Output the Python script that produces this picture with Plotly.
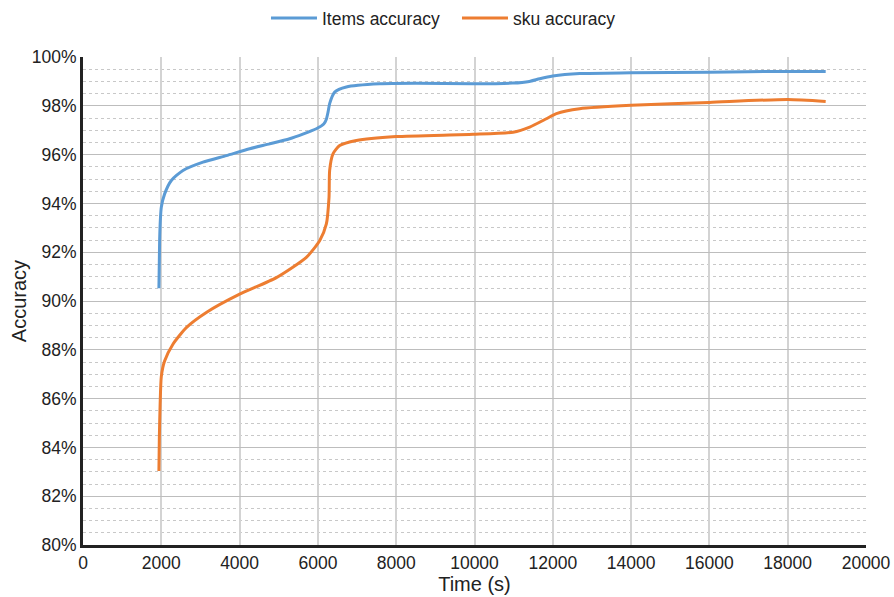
import plotly.graph_objects as go

# Items accuracy (blue)
items_time = [1939, 1957, 1975, 2000, 2085, 2256, 2553, 3064, 3661, 4257, 4768, 5278, 5960,
              6150, 6216, 6260, 6300, 6428, 6727, 7577, 8500, 9954, 10976, 11400, 11666,
              11998, 12688, 14000, 16000, 18000, 18970]
items_acc = [90.52, 92.47, 93.3, 93.84, 94.39, 94.94, 95.35, 95.69, 95.96, 96.24, 96.44,
             96.65, 97.06, 97.25, 97.45, 97.75, 98.09, 98.56, 98.77, 98.9, 98.92, 98.9,
             98.93, 99.0, 99.11, 99.22, 99.32, 99.35, 99.38, 99.41, 99.41]

# sku accuracy (orange)
sku_time = [1939, 1950, 1970, 2000, 2084, 2297, 2639, 3150, 4001, 4939, 5705, 6045,
            6216, 6284, 6300, 6385, 6556, 6983, 8000, 9962, 10985, 11410, 11836, 12092,
            12688, 14000, 16000, 18000, 18970]
sku_acc = [83.03, 84.39, 85.77, 86.9, 87.54, 88.23, 88.91, 89.53, 90.28, 90.96, 91.79,
           92.47, 93.16, 94.25, 95.35, 96.03, 96.37, 96.58, 96.74, 96.83, 96.92,
           97.13, 97.47, 97.68, 97.88, 98.02, 98.14, 98.26, 98.18]

x_ticks = [0, 2000, 4000, 6000, 8000, 10000, 12000, 14000, 16000, 18000, 20000]
y_ticks = [80, 82, 84, 86, 88, 90, 92, 94, 96, 98, 100]

FONT = "Liberation Sans, Arial, sans-serif"

fig = go.Figure()
fig.add_trace(go.Scatter(x=items_time, y=items_acc, mode="lines", name="Items accuracy",
                         line=dict(color="#5B9BD5", width=3, shape="spline", smoothing=0.6)))
fig.add_trace(go.Scatter(x=sku_time, y=sku_acc, mode="lines", name="sku accuracy",
                         line=dict(color="#ED7D31", width=3, shape="spline", smoothing=0.6)))

fig.update_layout(
    width=894, height=597,
    margin=dict(l=83, r=28, t=57, b=52, autoexpand=False),
    paper_bgcolor="white", plot_bgcolor="white",
    font=dict(family=FONT, size=17, color="#222"),
    showlegend=True,
    legend=dict(orientation="h", x=0.2337, xanchor="left", yref="container", y=1.0,
                yanchor="top", font=dict(size=17.5, color="#222"), itemwidth=46,
                entrywidth=130, entrywidthmode="pixels",
                bgcolor="rgba(0,0,0,0)"),
    xaxis=dict(range=[0, 20000], tickvals=x_ticks, ticktext=[str(v) for v in x_ticks],
               showgrid=True, gridcolor="#d3d3d3", gridwidth=2, automargin=False,
               showline=True, linecolor="#222", linewidth=3, ticks="", zeroline=False,
               title=dict(text="Time (s)", font=dict(size=20), standoff=2),
               tickfont=dict(size=17.5)),
    yaxis=dict(range=[80, 100], tickvals=y_ticks, ticktext=[f"{v}%" for v in y_ticks],
               showgrid=True, gridcolor="#bdbdbd", gridwidth=1, automargin=False,
               minor=dict(dtick=0.5, showgrid=True, gridcolor="#c8c8c8", griddash="dot",
                          gridwidth=1),
               showline=True, linecolor="#222", linewidth=3, ticks="", zeroline=False,
               title=dict(text="Accuracy", font=dict(size=20), standoff=0),
               tickfont=dict(size=17.5)),
)

# remove the browser's default 8px body margin so the figure fills the window
fig.write_html("out.html", config={"displayModeBar": False},
               post_script="document.body.style.margin='0';")
